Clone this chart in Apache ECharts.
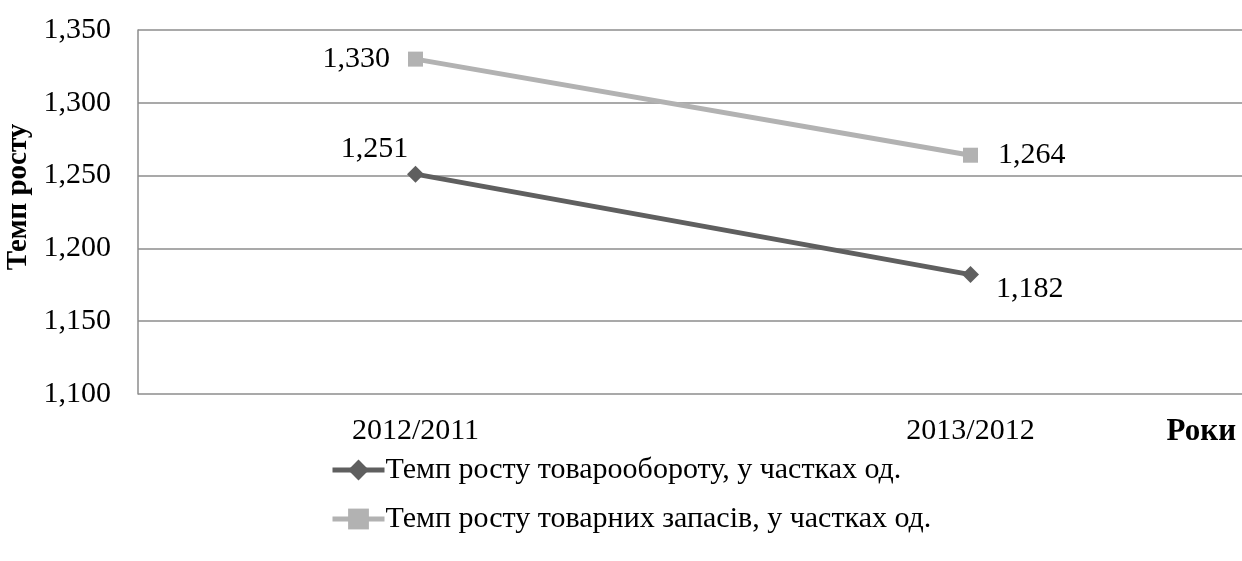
<!DOCTYPE html>
<html>
<head>
<meta charset="utf-8">
<script src="https://cdn.jsdelivr.net/npm/echarts@6/dist/echarts.min.js"></script>
<style>
  html, body { margin: 0; padding: 0; background: #fff; }
  #chart { width: 1242px; height: 561px; }
</style>
</head>
<body>
<div id="chart"></div>
<script>
const categories = ["2012/2011", "2013/2012"];
const turnover = [1.251, 1.182];
const stocks = [1.330, 1.264];
const seriesNames = ["Темп росту товарообороту, у частках од.", "Темп росту товарних запасів, у частках од."];

const font = "'Liberation Serif', 'Times New Roman', serif";
const fmt = v => v.toFixed(3).replace('.', ',');

const myChart = echarts.init(document.getElementById('chart'));

// label placement per point
const turnoverLabels = [
  { position: 'top', distance: 2, offset: [-41, 0] },
  { position: 'right', distance: 17, offset: [0, 15] }
];
const stockLabels = [
  { position: 'left', distance: 18 },
  { position: 'right', distance: 20 }
];

const option = {
  animation: false,
  grid: { left: 138, right: -6, top: 30, bottom: 167, containLabel: false, outerBoundsMode: 'none' },
  xAxis: {
    type: 'category',
    data: categories,
    name: 'Роки',
    nameLocation: 'end',
    nameGap: 0,
    nameTextStyle: { fontFamily: font, fontSize: 31, fontWeight: 'bold', color: '#000',
      align: 'right', verticalAlign: 'top', padding: [22, 12, 0, 0] },
    axisLine: { show: false },
    axisTick: { show: false },
    axisLabel: { fontFamily: font, fontSize: 30, color: '#000', margin: 22 }
  },
  yAxis: {
    type: 'value',
    min: 1.1,
    max: 1.35,
    interval: 0.05,
    name: 'Темп росту',
    nameLocation: 'middle',
    nameGap: 103,
    nameRotate: 90,
    nameTextStyle: { fontFamily: font, fontSize: 29, fontWeight: 'bold', color: '#000', padding: [0, 0, 0, 30] },
    axisLine: { show: true, lineStyle: { color: '#8c8c8c', width: 1.5 } },
    axisTick: { show: false },
    splitLine: { lineStyle: { color: '#8c8c8c', width: 1.5 } },
    axisLabel: { fontFamily: font, fontSize: 30, color: '#000', margin: 27, formatter: fmt }
  },
  legend: {
    orient: 'vertical',
    left: 325,
    top: 450,
    itemWidth: 52,
    itemHeight: 26,
    itemGap: 19,
    lineStyle: { width: 5 },
    textStyle: { fontFamily: font, fontSize: 30, color: '#000', padding: [0, 0, 0, -4] },
    data: seriesNames
  },
  series: [
    {
      name: seriesNames[0],
      type: 'line',
      symbol: 'diamond',
      symbolSize: 17,
      color: '#5f5f5f',
      lineStyle: { width: 5, color: '#5f5f5f' },
      itemStyle: { color: '#5f5f5f' },
      data: turnover.map((v, i) => ({
        value: v,
        label: Object.assign({ show: true, formatter: p => fmt(p.value), fontFamily: font, fontSize: 30, color: '#000' }, turnoverLabels[i])
      }))
    },
    {
      name: seriesNames[1],
      type: 'line',
      symbol: 'rect',
      symbolSize: 15,
      color: '#b2b2b2',
      lineStyle: { width: 5, color: '#b2b2b2' },
      itemStyle: { color: '#b2b2b2' },
      data: stocks.map((v, i) => ({
        value: v,
        label: Object.assign({ show: true, formatter: p => fmt(p.value), fontFamily: font, fontSize: 30, color: '#000' }, stockLabels[i])
      }))
    }
  ]
};

myChart.setOption(option);
</script>
</body>
</html>
